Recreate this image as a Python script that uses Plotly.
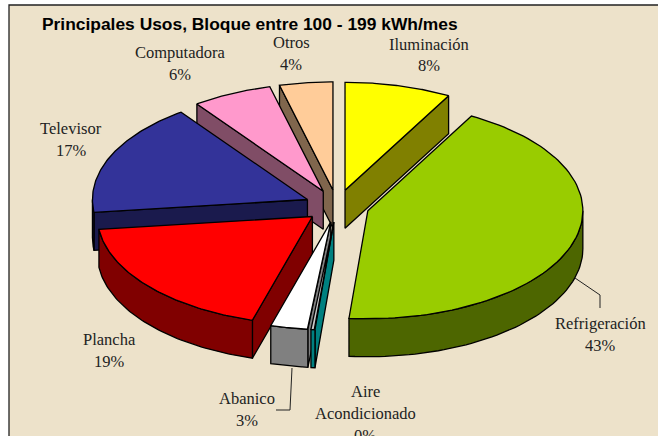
import numpy as np
import plotly.graph_objects as go

categories = ["Iluminación", "Refrigeración", "Aire Acondicionado", "Abanico",
              "Plancha", "Televisor", "Computadora", "Otros"]
values = [8, 43.4, 0.3, 2.8, 18.6, 16.9, 6, 4]
top_colors = ["#FFFF00", "#99CC00", "#C8C8C8", "#FFFFFF",
              "#FF0000", "#333399", "#FF99CC", "#FFCC99"]
side_colors = ["#808000", "#4D6600", "#008080", "#808080",
               "#800000", "#1A1A4D", "#804D66", "#80664D"]

W, H = 658, 436
CX, CY, RX, RY, DEPTH, PULL = 337, 206, 215, 108, 38, 0.15
INK = "#000000"
PAPER = "#EDE2CA"


def pt(theta, r=1.0, ox=0.0, oy=0.0):
    return ox + r * RX * np.sin(theta), oy - r * RY * np.cos(theta)


fig = go.Figure()


def poly(xs, ys, color):
    fig.add_trace(go.Scatter(x=list(xs) + [xs[0]], y=list(ys) + [ys[0]], mode="lines",
                             fill="toself", fillcolor=color,
                             line=dict(color=INK, width=1.3),
                             hoverinfo="skip", showlegend=False))


total = sum(values)
edges = np.radians(np.concatenate([[0], np.cumsum(values)]) / total * 360)
slices = []
for i in range(len(values)):
    a, b = edges[i], edges[i + 1]
    mid = (a + b) / 2
    ox, oy = pt(mid, PULL, CX, CY)
    slices.append((-np.cos(mid), i, a, b, ox, oy))

for _, i, a, b, ox, oy in sorted(slices):
    # radial walls
    for th, visible in ((a, np.sin(a) < -1e-9), (b, np.sin(b) > 1e-9)):
        if visible:
            px, py = pt(th, 1, ox, oy)
            poly([ox, px, px, ox], [oy, py, py + DEPTH, oy + DEPTH], side_colors[i])
    # outer rim (only the part that faces the viewer)
    lo, hi = max(a, np.pi / 2), min(b, 3 * np.pi / 2)
    if hi > lo:
        t = np.linspace(lo, hi, 60)
        rx, ry = pt(t, 1, ox, oy)
        poly(np.r_[rx, rx[::-1]], np.r_[ry, ry[::-1] + DEPTH], side_colors[i])
    # top face
    t = np.linspace(a, b, 90)
    rx, ry = pt(t, 1, ox, oy)
    poly(np.r_[ox, rx], np.r_[oy, ry], top_colors[i])

# labels: centre x and y of each text line
label_pos = {
    "Iluminación": (429, [44, 65]),
    "Refrigeración": (600, [323, 345]),
    "Aire Acondicionado": (365, [391, 413, 435]),
    "Abanico": (247, [398, 420]),
    "Plancha": (109, [339, 361]),
    "Televisor": (71, [128, 150]),
    "Computadora": (180, [52, 74]),
    "Otros": (291, [42, 64]),
}
annotations = []
for name, val in zip(categories, values):
    x, ys = label_pos[name]
    lines = name.split(" ") + [f"{round(val)}%"]
    for line, y in zip(lines, ys):
        annotations.append(dict(x=x, y=y, xref="x", yref="y", text=line, showarrow=False,
                                xanchor="center", yanchor="middle",
                                font=dict(family="Liberation Serif", size=16.5, color="#222222")))
annotations.append(dict(x=250, y=24, xref="x", yref="y",
                        text="<b>Principales Usos, Bloque entre 100 - 199 kWh/mes</b>",
                        showarrow=False, xanchor="center", yanchor="middle",
                        font=dict(family="Liberation Sans", size=17.4, color="#000000")))

shapes = [
    dict(type="rect", xref="x", yref="y", x0=9, y0=5, x1=W + 5, y1=H + 5, layer="below",
         fillcolor=PAPER, line=dict(color="#222222", width=1.3)),
    dict(type="path", xref="x", yref="y", path="M 575 278 L 600 295 L 600 308",
         line=dict(color="#222222", width=1)),
    dict(type="path", xref="x", yref="y", path="M 292 368 L 290 410 L 276 410",
         line=dict(color="#222222", width=1)),
]

fig.update_layout(
    width=W, height=H, autosize=False,
    margin=dict(l=0, r=0, t=0, b=0),
    paper_bgcolor="#FFFFFF", plot_bgcolor="#FFFFFF",
    xaxis=dict(range=[0, W], visible=False, fixedrange=True),
    yaxis=dict(range=[H, 0], visible=False, fixedrange=True),
    annotations=annotations, shapes=shapes, showlegend=False,
)
fig.write_html("out.html", config={"displayModeBar": False},
               post_script="document.body.style.margin='0';document.body.style.overflow='hidden';")
